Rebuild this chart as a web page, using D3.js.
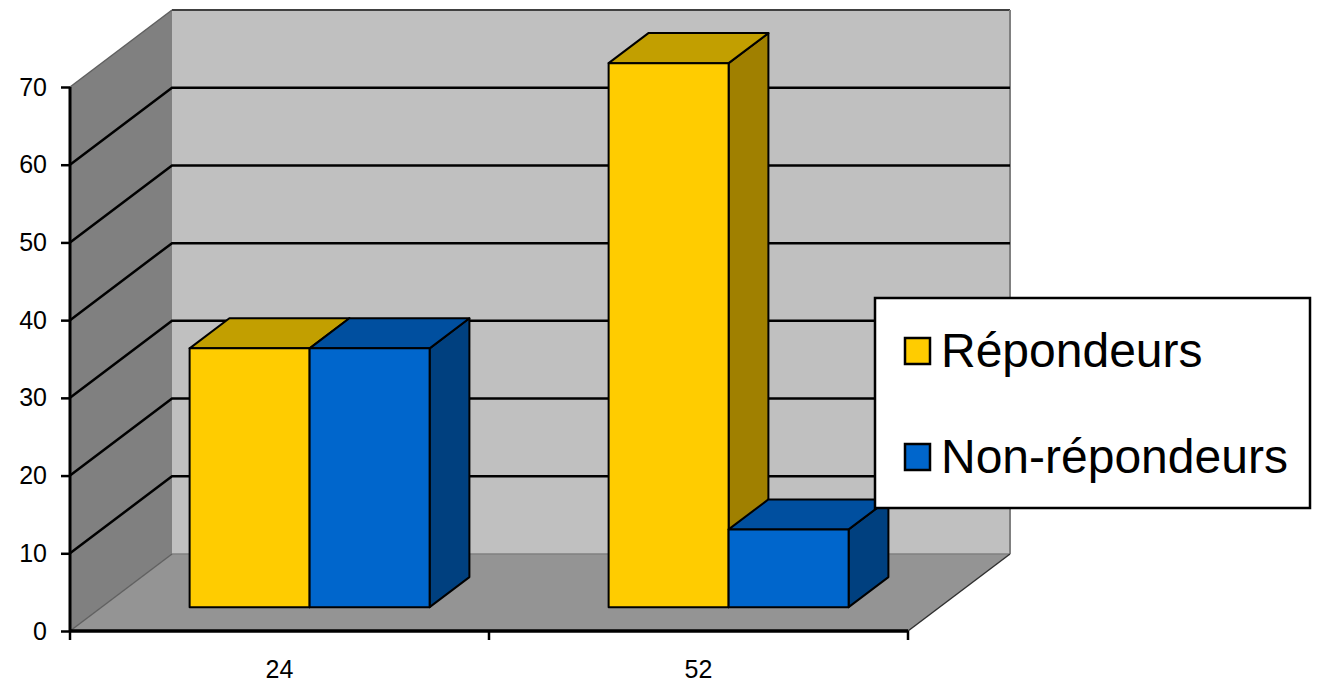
<!DOCTYPE html>
<html>
<head>
<meta charset="utf-8">
<script src="https://d3js.org/d3.v7.min.js"></script>
<style>
  html, body { margin: 0; padding: 0; background: #fff; }
  svg { display: block; }
  text { font-family: "Liberation Sans", Arial, sans-serif; fill: #000; }
</style>
</head>
<body>
<svg id="chart" width="1319" height="688"></svg>
<script>
// Chart values
const categories = ["24", "52"];
const seriesNames = ["Répondeurs", "Non-répondeurs"];
const repondeurs = [33.3, 70];
const nonRepondeurs = [33.3, 10];
const yTicks = [0, 10, 20, 30, 40, 50, 60, 70];

const svg = d3.select("#chart");

// Front plane scales
const y = d3.scaleLinear().domain([0, 70]).range([631, 87]);
const x = d3.scaleBand().domain(categories).range([70, 908]);
const xBar = d3.scaleBand().domain(seriesNames).range([88, 328]);

// Depth of the 3D box: z 0 = front, z 1 = back wall
const dx = d3.scaleLinear().domain([0, 1]).range([0, 102]);
const dy = d3.scaleLinear().domain([0, 1]).range([0, -77]);
const barZ = [0.31, 0.70];

const pt = (px, v, z) => [px + dx(z), y(v) + dy(z)];
const poly = pts => "M" + pts.map(p => p.join(",")).join("L") + "Z";

const colors = {
  "Répondeurs": { front: "#ffcc00", top: "#c29f00", side: "#a08000" },
  "Non-répondeurs": { front: "#0066cc", top: "#004f9f", side: "#00407f" }
};

const x0 = x.range()[0], x1 = x.range()[1];

// Walls and floor
const walls = svg.append("g").attr("class", "walls");
walls.append("path")
  .attr("d", poly([pt(x0, 0, 1), pt(x1, 0, 1), pt(x1, 70, 1), pt(x0, 70, 1)]))
  .attr("fill", "#c0c0c0");
walls.append("path")
  .attr("d", poly([pt(x0, 0, 0), pt(x0, 0, 1), pt(x0, 70, 1), pt(x0, 70, 0)]))
  .attr("fill", "#808080");
walls.append("path")
  .attr("d", poly([pt(x0, 0, 0), pt(x1, 0, 0), pt(x1, 0, 1), pt(x0, 0, 1)]))
  .attr("fill", "#949494");

// Wall edges
const edge = (a, b, col, w) => walls.append("line")
  .attr("x1", a[0]).attr("y1", a[1]).attr("x2", b[0]).attr("y2", b[1])
  .attr("stroke", col).attr("stroke-width", w);
edge(pt(x0, 70, 1), pt(x1, 70, 1), "#404040", 2);
edge(pt(x1, 70, 1), pt(x1, 0, 1), "#808080", 2);
edge(pt(x0, 70, 0), pt(x0, 70, 1), "#606060", 1.5);
edge(pt(x0, 0, 1), pt(x1, 0, 1), "#808080", 1.5);
edge(pt(x0, 0, 0), pt(x0, 0, 1), "#606060", 1.5);
edge(pt(x1, 0, 0), pt(x1, 0, 1), "#303030", 1.5);

// Gridlines run along the left wall and the back wall
const grid = svg.append("g").attr("class", "grid")
  .selectAll("path")
  .data(yTicks.filter(d => d > 0 && d < 70))
  .enter().append("path")
  .attr("d", d => d3.line()([pt(x0, d, 0), pt(x0, d, 1), pt(x1, d, 1)]))
  .attr("fill", "none")
  .attr("stroke", "#000")
  .attr("stroke-width", 2.5);

// Bars, drawn back to front for each category
const barData = [];
categories.forEach((c, i) => {
  barData.push({ cat: c, name: seriesNames[0], value: repondeurs[i] });
  barData.push({ cat: c, name: seriesNames[1], value: nonRepondeurs[i] });
});

const bars = svg.append("g").attr("class", "bars")
  .selectAll("g")
  .data(barData)
  .enter().append("g");

const barLeft = d => x(d.cat) + xBar(d.name);
const barRight = d => barLeft(d) + xBar.bandwidth();

bars.append("path")
  .attr("d", d => poly([
    pt(barRight(d), 0, barZ[0]), pt(barRight(d), 0, barZ[1]),
    pt(barRight(d), d.value, barZ[1]), pt(barRight(d), d.value, barZ[0])]))
  .attr("fill", d => colors[d.name].side);
bars.append("path")
  .attr("d", d => poly([
    pt(barLeft(d), d.value, barZ[0]), pt(barRight(d), d.value, barZ[0]),
    pt(barRight(d), d.value, barZ[1]), pt(barLeft(d), d.value, barZ[1])]))
  .attr("fill", d => colors[d.name].top);
bars.append("path")
  .attr("d", d => poly([
    pt(barLeft(d), 0, barZ[0]), pt(barRight(d), 0, barZ[0]),
    pt(barRight(d), d.value, barZ[0]), pt(barLeft(d), d.value, barZ[0])]))
  .attr("fill", d => colors[d.name].front);
bars.selectAll("path")
  .attr("stroke", "#000")
  .attr("stroke-width", 2)
  .attr("stroke-linejoin", "round");

// Y axis
const yAxis = svg.append("g")
  .attr("transform", `translate(${x0},0)`)
  .call(d3.axisLeft(y).tickValues(yTicks).tickSize(9).tickPadding(14));
yAxis.selectAll("text").attr("font-size", 25).style("font-family", '"Liberation Sans", Arial, sans-serif');
yAxis.selectAll("line").attr("stroke-width", 2.5);
yAxis.select(".domain").attr("d", `M0,${y(70)}V${y(0)}`).attr("stroke-width", 3);

// X axis: ticks sit on the band edges, labels in the middle of the band
const xAxis = svg.append("g")
  .attr("transform", `translate(0,${y(0)})`)
  .call(d3.axisBottom(x).tickSize(0).tickPadding(29));
xAxis.selectAll("text").attr("font-size", 25).style("font-family", '"Liberation Sans", Arial, sans-serif');
xAxis.select(".domain").attr("d", `M${x0},0H${x1}`).attr("stroke-width", 3.5);
xAxis.selectAll(".edge")
  .data([x0, x(categories[1]), x1])
  .enter().append("line")
  .attr("class", "edge")
  .attr("x1", d => d).attr("x2", d => d)
  .attr("y1", 0).attr("y2", 9)
  .attr("stroke", "#000")
  .attr("stroke-width", 2.5);

// Legend
const legend = svg.append("g").attr("class", "legend");
legend.append("rect")
  .attr("x", 875).attr("y", 298)
  .attr("width", 435).attr("height", 210)
  .attr("fill", "#fff")
  .attr("stroke", "#000")
  .attr("stroke-width", 2.5);

const legendY = d3.scalePoint().domain(seriesNames).range([367, 473]);
const items = legend.selectAll(".item")
  .data(seriesNames)
  .enter().append("g")
  .attr("class", "item");
items.append("rect")
  .attr("x", 905)
  .attr("y", d => legendY(d) - 29)
  .attr("width", 25).attr("height", 26)
  .attr("fill", d => colors[d].front)
  .attr("stroke", "#000")
  .attr("stroke-width", 2.5);
items.append("text")
  .attr("x", 941)
  .attr("y", d => legendY(d))
  .attr("font-size", 48)
  .text(d => d);
</script>
</body>
</html>
